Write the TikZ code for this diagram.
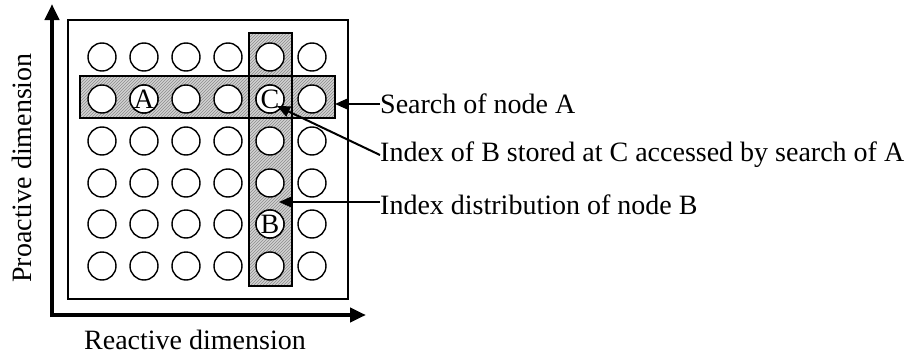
\documentclass[tikz,border=0pt]{standalone}
\usepackage{fontspec}
\setmainfont{Liberation Serif}
\usetikzlibrary{arrows.meta,patterns}
\begin{document}
\begin{tikzpicture}[x=1pt,y=-1pt,
  txt/.style={font=\fontsize{28}{30}\selectfont, inner sep=0pt},
  dot/.style={circle, draw, line width=1.4pt, fill=white, minimum size=28pt, inner sep=0pt, font=\fontsize{28}{30}\selectfont},
  bar/.style={draw, line width=1.6pt, preaction={fill=gray!35}, pattern=north east lines, pattern color=gray!90},
  axis/.style={line width=4pt, -{Triangle[length=16pt,width=14pt]}},
  lead/.style={line width=2pt, -{Triangle[length=13pt,width=11pt]}}]
\useasboundingbox (0,0) rectangle (911,356);
% frame
\draw[line width=1.5pt] (68,20) rectangle (348,299);
% bars
\path[bar] (80,76) rectangle (335,118);
\path[bar] (249,33) rectangle (292,286);
\draw[line width=1.6pt] (80,76) rectangle (335,118);
\draw[line width=1.6pt] (249,33) rectangle (292,286);
% circles
\foreach \i/\x in {1/102,2/144,3/186,4/228,5/270,6/312}{
  \foreach \j/\y in {1/57,2/99,3/141,4/183,5/224,6/266}{
    \node[dot] (c-\i-\j) at (\x,\y) {};
  }
}
\node[dot] at (c-2-2) {A};
\node[dot] at (c-5-2) {C};
\node[dot] at (c-5-5) {B};
% axes
\coordinate (ytip) at (52,4);
\coordinate (xtip) at (366,315);
\draw[axis] (52,317) -- (ytip);
\draw[axis] (50,315) -- (xtip);
\node[txt] (xl) at (195,340) {Reactive dimension};
\node[txt, rotate=90] (yl) at (22,168) {Proactive dimension};
% labels
\node[txt, anchor=west] (l1) at (380,104) {Search of node A};
\node[txt, anchor=west] (l2) at (380,155) {Index of B stored at C accessed by search of A};
\node[txt, anchor=west] (l3) at (380,205) {Index distribution of node B};
\coordinate (t1) at (335,104);
\coordinate (t2) at (277,106);
\coordinate (t3) at (279,202);
\draw[lead] (l1.west) -- (t1);
\draw[lead] (l2.west) -- (t2);
\draw[lead] (l3.west |- t3) -- (t3);
\end{tikzpicture}
\end{document}
